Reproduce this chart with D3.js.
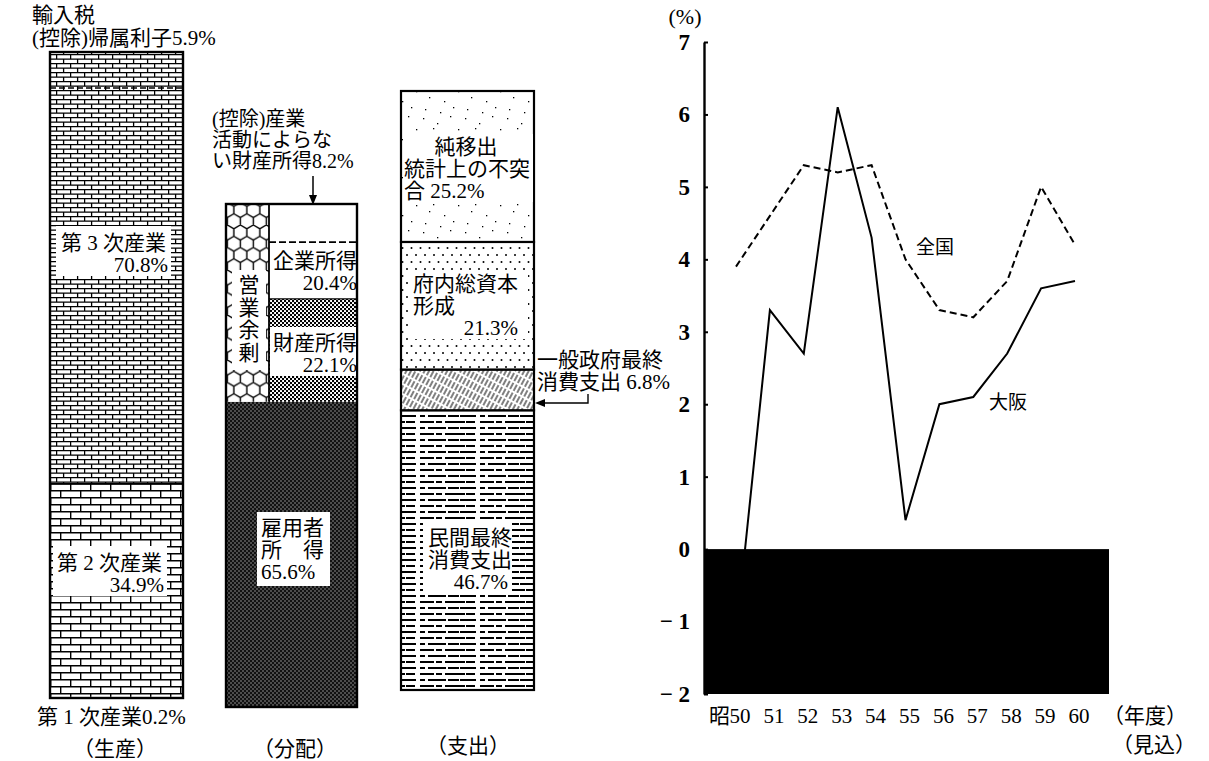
<!DOCTYPE html>
<html>
<head>
<meta charset="utf-8">
<script src="https://cdn.jsdelivr.net/npm/d3@7"></script>
<style>
  body { margin: 0; background: #fff; }
  text { font-family: "Liberation Serif", "Noto Sans CJK JP", serif; fill: #000; }
  .jp { font-family: "Noto Sans CJK JP", sans-serif; }
</style>
</head>
<body>
<svg id="chart" width="1209" height="761"></svg>
<script>
// ---- data ----
var prodNames = ["第1次産業", "第2次産業", "第3次産業"];
var prodValues = [0.2, 34.9, 70.8];
var prodDeduct = 5.9;            // 輸入税 (控除)帰属利子

var distNames = ["雇用者所得", "財産所得", "企業所得"];
var distValues = [65.6, 22.1, 20.4];
var distDeduct = 8.2;            // (控除)産業活動によらない財産所得

var expNames = ["民間最終消費支出", "一般政府最終消費支出", "府内総資本形成", "純移出・統計上の不突合"];
var expValues = [46.7, 6.8, 21.3, 25.2];

var years = ["50", "51", "52", "53", "54", "55", "56", "57", "58", "59", "60"];
var osaka = [-1.2, 3.3, 2.7, 6.1, 4.3, 0.4, 2.0, 2.1, 2.7, 3.6, 3.7];
var zenkoku = [3.9, 4.6, 5.3, 5.2, 5.3, 4.0, 3.3, 3.2, 3.7, 5.0, 4.2];
var yTicks = [-2, -1, 0, 1, 2, 3, 4, 5, 6, 7];

var svg = d3.select("#chart");
var defs = svg.append("defs");

// ---- fill patterns (imitating the printed screens) ----
var pattern = function pattern(id, w, h, bg, transform) {
  var p = defs.append("pattern")
    .attr("id", id)
    .attr("patternUnits", "userSpaceOnUse")
    .attr("width", w)
    .attr("height", h);
  if (transform) p.attr("patternTransform", transform);
  p.append("rect").attr("width", w).attr("height", h).attr("fill", bg);
  return p;
};

pattern("brickS", 14, 9, "#fff").append("path")
  .attr("d", "M0,0.6H14M0,5.1H14M0.6,0V4.5M7.6,4.5V9")
  .attr("stroke", "#000").attr("stroke-width", 1.3);

pattern("brickL", 20, 14, "#fff").append("path")
  .attr("d", "M0,0.7H20M0,7.7H20M0.7,0V7M10.7,7V14")
  .attr("stroke", "#000").attr("stroke-width", 1.4);

var hr = 7.5, hw = Math.sqrt(3) * hr;
pattern("hex", hw, 3 * hr, "#fff").append("path")
  .attr("d", "M" + hw / 2 + ",0L" + hw + "," + hr / 2 + "V" + 1.5 * hr + "L" + hw / 2 + "," + 2 * hr +
             "L0," + 1.5 * hr + "V" + hr / 2 + "Z M" + hw / 2 + "," + 2 * hr + "V" + 3 * hr)
  .attr("fill", "none").attr("stroke", "#000").attr("stroke-width", 1.4);

var emp = pattern("empDots", 4, 4, "#111");
emp.append("rect").attr("x", 0.5).attr("y", 0.5).attr("width", 1).attr("height", 1).attr("fill", "#fff");
emp.append("rect").attr("x", 2.5).attr("y", 2.5).attr("width", 1).attr("height", 1).attr("fill", "#fff");

var chk = pattern("checker", 4, 4, "#fff");
chk.append("rect").attr("width", 2.1).attr("height", 2.1).attr("fill", "#000");
chk.append("rect").attr("x", 2).attr("y", 2).attr("width", 2.1).attr("height", 2.1).attr("fill", "#000");

var dt = pattern("dots", 9, 14, "#fff");
dt.append("circle").attr("cx", 2).attr("cy", 3).attr("r", 1).attr("fill", "#000");
dt.append("circle").attr("cx", 6.5).attr("cy", 10).attr("r", 1).attr("fill", "#000");

pattern("hatch", 4, 9, "#fff", "rotate(28)").append("path")
  .attr("d", "M1,0V9")
  .attr("stroke", "#000").attr("stroke-width", 1).attr("stroke-dasharray", "5,2,2,1");

var hl = pattern("hlines", 60, 12, "#fff");
hl.append("path").attr("d", "M0,2H60").attr("stroke", "#000").attr("stroke-width", 1.8)
  .attr("stroke-dasharray", "14,2,6,3,20,1,9,5");
hl.append("path").attr("d", "M0,8H60").attr("stroke", "#000").attr("stroke-width", 1.8)
  .attr("stroke-dasharray", "5,3,18,2,11,1,16,4");

var sp = pattern("speckle", 42, 38, "#fff");
[[3, 4], [17, 9], [30, 2], [38, 15], [9, 21], [24, 25], [33, 31], [5, 33], [20, 36], [13, 14]]
  .forEach(function (d) {
    sp.append("rect").attr("x", d[0]).attr("y", d[1]).attr("width", 1.3).attr("height", 1.3).attr("fill", "#000");
  });

// ---- helpers ----
var stack = function stack(values) {
  var acc = 0;
  return values.map(function (v) { var s = { y0: acc, y1: acc + v }; acc += v; return s; });
};

var txt = function txt(x, y, str, anchor, size, cls) {
  return svg.append("text")
    .attr("x", x).attr("y", y)
    .attr("text-anchor", anchor || "start")
    .attr("class", cls || null)
    .style("font-size", (size || 21) + "px")
    .text(str);
};

var box = function box(x, y, w, h) {
  svg.append("rect").attr("x", x).attr("y", y).attr("width", w).attr("height", h).attr("fill", "#fff");
};

// ================= (生産) =================
var yProd = d3.scaleLinear().domain([0, 100]).range([698, 88]);
var prodX = 50, prodW = 133;
var prodStack = stack(prodValues);
var prodFill = ["brickL", "brickL", "brickS"];
var prodTop = d3.sum(prodValues);

svg.append("g").selectAll("rect")
  .data(prodStack)
  .join("rect")
  .attr("x", prodX).attr("width", prodW)
  .attr("y", function (d) { return yProd(d.y1); })
  .attr("height", function (d) { return yProd(d.y0) - yProd(d.y1); })
  .attr("fill", function (d, i) { return "url(#" + prodFill[i] + ")"; });

svg.append("line")
  .attr("x1", prodX).attr("x2", prodX + prodW)
  .attr("y1", yProd(prodStack[1].y1)).attr("y2", yProd(prodStack[1].y1))
  .attr("stroke", "#000").attr("stroke-width", 1.6);
svg.append("line")
  .attr("x1", prodX).attr("x2", prodX + prodW)
  .attr("y1", yProd(prodTop - prodDeduct)).attr("y2", yProd(prodTop - prodDeduct))
  .attr("stroke", "#000").attr("stroke-width", 1.5).attr("stroke-dasharray", "6,3");
svg.append("rect")
  .attr("x", prodX).attr("y", yProd(prodTop))
  .attr("width", prodW).attr("height", yProd(0) - yProd(prodTop))
  .attr("fill", "none").attr("stroke", "#000").attr("stroke-width", 2.4);

txt(32, 22, "輸入税");
txt(32, 45, "(控除)帰属利子" + prodDeduct + "%");
box(56, 226, 115, 50);
txt(61, 250, "第 3 次産業");
txt(168, 272, prodValues[2] + "%", "end");
box(53, 546, 114, 50);
txt(57, 570, "第 2 次産業");
txt(164, 592, prodValues[1] + "%", "end");
txt(37, 724, "第 1 次産業" + prodValues[0] + "%");
txt(115, 756, "（生産）", "middle");

// ================= (分配) =================
var distTop = d3.sum(distValues);
var yDist = d3.scaleLinear().domain([0, distTop]).range([707, 204]);
var distX = 226, distW = 131, hexW = 43;
var distStack = stack(distValues);

// 雇用者所得 spans the full width
svg.append("rect")
  .attr("x", distX).attr("width", distW)
  .attr("y", yDist(distStack[0].y1))
  .attr("height", yDist(distStack[0].y0) - yDist(distStack[0].y1))
  .attr("fill", "url(#empDots)");

// 財産所得 + 企業所得 on the right column
svg.append("g").selectAll("rect")
  .data(distStack.slice(1))
  .join("rect")
  .attr("x", distX + hexW).attr("width", distW - hexW)
  .attr("y", function (d) { return yDist(d.y1); })
  .attr("height", function (d) { return yDist(d.y0) - yDist(d.y1); })
  .attr("fill", function (d, i) { return i === 0 ? "url(#checker)" : "#fff"; });

// 営業余剰 column
svg.append("rect")
  .attr("x", distX).attr("width", hexW)
  .attr("y", yDist(distTop))
  .attr("height", yDist(distStack[0].y1) - yDist(distTop))
  .attr("fill", "url(#hex)");

svg.append("line")
  .attr("x1", distX + hexW).attr("x2", distX + hexW)
  .attr("y1", yDist(distTop)).attr("y2", yDist(distStack[0].y1))
  .attr("stroke", "#000").attr("stroke-width", 1.8);
svg.append("line")
  .attr("x1", distX + hexW).attr("x2", distX + distW)
  .attr("y1", yDist(distStack[1].y1)).attr("y2", yDist(distStack[1].y1))
  .attr("stroke", "#000").attr("stroke-width", 1.2);
svg.append("line")
  .attr("x1", distX + hexW).attr("x2", distX + distW)
  .attr("y1", yDist(distTop - distDeduct)).attr("y2", yDist(distTop - distDeduct))
  .attr("stroke", "#000").attr("stroke-width", 1.8).attr("stroke-dasharray", "7,3");
svg.append("rect")
  .attr("x", distX).attr("y", yDist(distTop))
  .attr("width", distW).attr("height", yDist(0) - yDist(distTop))
  .attr("fill", "none").attr("stroke", "#000").attr("stroke-width", 2.4);

txt(212, 126, "(控除)産業", "start", 20);
txt(212, 147, "活動によらな", "start", 20);
txt(212, 168, "い財産所得" + distDeduct + "%", "start", 20);
svg.append("line").attr("x1", 313).attr("x2", 313).attr("y1", 176).attr("y2", 200)
  .attr("stroke", "#000").attr("stroke-width", 1.5);
svg.append("path").attr("d", "M309,195L313,205L317,195Z").attr("fill", "#000");

box(232, 270, 34, 100);
["営", "業", "余", "剰"].forEach(function (c, i) { txt(249, 292 + i * 22.5, c, "middle"); });
txt(357, 268, "企業所得", "end");
txt(357, 290, distValues[2] + "%", "end");
box(distX + hexW + 1, 327, distW - hexW - 2, 49);
txt(357, 350, "財産所得", "end");
txt(357, 372, distValues[1] + "%", "end");
box(257, 512, 73, 74);
txt(261, 535, "雇用者");
txt(261, 557, "所　得");
txt(261, 579, distValues[0] + "%");
txt(295, 756, "（分配）", "middle");

// ================= (支出) =================
var yExp = d3.scaleLinear().domain([0, 100]).range([690, 91]);
var expX = 401, expW = 133;
var expStack = stack(expValues);
var expFill = ["hlines", "hatch", "dots", "speckle"];

svg.append("g").selectAll("rect")
  .data(expStack)
  .join("rect")
  .attr("x", expX).attr("width", expW)
  .attr("y", function (d) { return yExp(d.y1); })
  .attr("height", function (d) { return yExp(d.y0) - yExp(d.y1); })
  .attr("fill", function (d, i) { return "url(#" + expFill[i] + ")"; })
  .attr("stroke", "#000").attr("stroke-width", 2.2);

box(403, 134, 130, 68);
txt(466, 154, "純移出", "middle");
txt(404, 176, "統計上の不突");
txt(404, 198, "合 " + expValues[3] + "%");
box(410, 271, 118, 68);
txt(413, 291, "府内総資本");
txt(413, 313, "形成");
txt(518, 335, expValues[2] + "%", "end");
txt(537, 367, "一般政府最終");
txt(537, 389, "消費支出 " + expValues[1] + "%");
svg.append("path").attr("d", "M588,394V403H540").attr("fill", "none").attr("stroke", "#000").attr("stroke-width", 1.4);
svg.append("path").attr("d", "M535,403L545,399L545,407Z").attr("fill", "#000");
box(423, 523, 89, 70);
txt(428, 545, "民間最終");
txt(428, 567, "消費支出");
txt(508, 589, expValues[0] + "%", "end");
txt(468, 753, "（支出）", "middle");

// ================= line chart =================
var x = d3.scalePoint().domain(years).range([736, 1075]);
var y = d3.scaleLinear().domain([-2, 7]).range([694, 42]);
var axisX = 704, plotRight = 1109;

var line = d3.line()
  .x(function (d, i) { return x(years[i]); })
  .y(function (d) { return y(d); });

svg.append("path").datum(zenkoku)
  .attr("d", line).attr("fill", "none")
  .attr("stroke", "#000").attr("stroke-width", 2).attr("stroke-dasharray", "7,4");
svg.append("path").datum(osaka)
  .attr("d", line).attr("fill", "none")
  .attr("stroke", "#000").attr("stroke-width", 2);

// negative region is blacked out
svg.append("rect")
  .attr("x", axisX).attr("y", y(0))
  .attr("width", plotRight - axisX).attr("height", y(-2) - y(0))
  .attr("fill", "#000");

var yAxis = svg.append("g")
  .attr("transform", "translate(" + axisX + ",0)")
  .call(d3.axisLeft(y).tickValues(yTicks).tickSize(-4).tickSizeOuter(0).tickPadding(14)
    .tickFormat(function (d) { return d < 0 ? "− " + Math.abs(d) : d; }));
yAxis.select(".domain").attr("stroke-width", 2.4);
yAxis.selectAll(".tick line").attr("stroke-width", 2);
yAxis.selectAll("text")
  .style("font-family", "'Liberation Serif', serif")
  .style("font-size", "23px")
  .style("font-weight", "bold");

svg.append("g").selectAll("text")
  .data(years)
  .join("text")
  .attr("x", function (d) { return x(d) + 4; })
  .attr("y", 723)
  .attr("text-anchor", "middle")
  .style("font-size", "21px")
  .text(function (d) { return d; });
txt(x(years[0]) - 6, 723, "昭", "end");

txt(1103, 723, "（年度）");
txt(1112, 752, "（見込）");
txt(685, 24, "(%)", "middle", 22);
txt(935, 254, "全国", "middle", 19, "jp");
txt(1008, 409, "大阪", "middle", 19, "jp");
</script>
</body>
</html>
